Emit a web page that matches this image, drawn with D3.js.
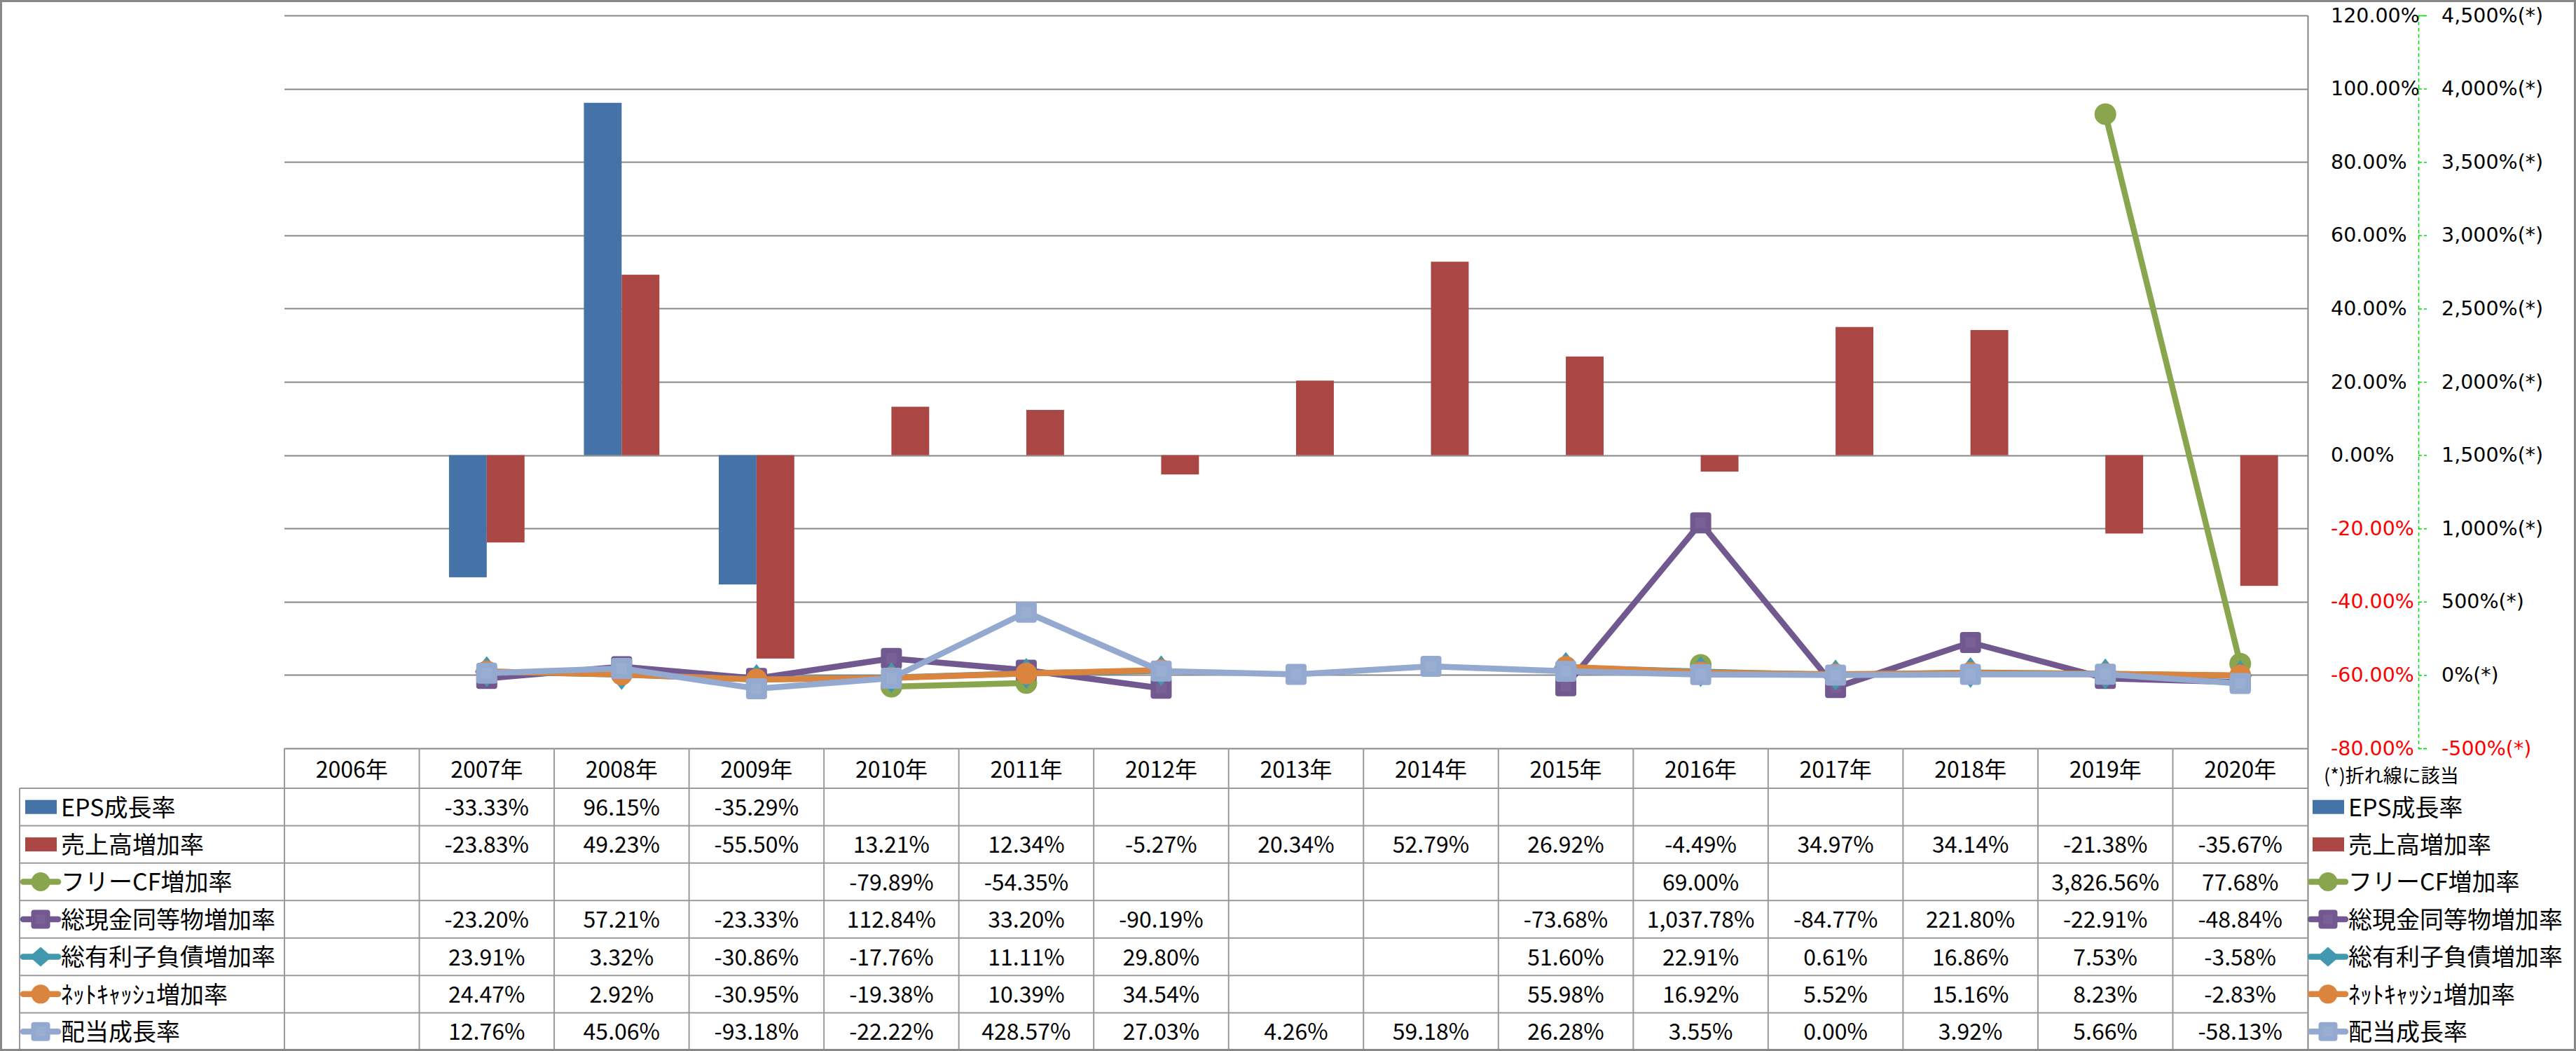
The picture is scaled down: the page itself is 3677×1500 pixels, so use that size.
<!DOCTYPE html>
<html>
<head>
<meta charset="utf-8">
<script src="https://cdn.jsdelivr.net/npm/d3@7"></script>
<style>
  html, body { margin: 0; padding: 0; background: #fff; }
  svg { display: block; }
</style>
</head>
<body>
<svg id="chart" width="3677" height="1500"></svg>
<script>
// ---------------- DATA ----------------
const years = ["2006年","2007年","2008年","2009年","2010年","2011年","2012年","2013年","2014年","2015年","2016年","2017年","2018年","2019年","2020年"];

const epsGrowth      = [null, -33.33, 96.15, -35.29, null, null, null, null, null, null, null, null, null, null, null];
const salesGrowth    = [null, -23.83, 49.23, -55.50, 13.21, 12.34, -5.27, 20.34, 52.79, 26.92, -4.49, 34.97, 34.14, -21.38, -35.67];
const fcfGrowth      = [null, null, null, null, -79.89, -54.35, null, null, null, null, 69.00, null, null, 3826.56, 77.68];
const cashGrowth     = [null, -23.20, 57.21, -23.33, 112.84, 33.20, -90.19, null, null, -73.68, 1037.78, -84.77, 221.80, -22.91, -48.84];
const debtGrowth     = [null, 23.91, 3.32, -30.86, -17.76, 11.11, 29.80, null, null, 51.60, 22.91, 0.61, 16.86, 7.53, -3.58];
const netCashGrowth  = [null, 24.47, 2.92, -30.95, -19.38, 10.39, 34.54, null, null, 55.98, 16.92, 5.52, 15.16, 8.23, -2.83];
const dividendGrowth = [null, 12.76, 45.06, -93.18, -22.22, 428.57, 27.03, 4.26, 59.18, 26.28, 3.55, 0.00, 3.92, 5.66, -58.13];

const seriesNames = ["EPS成長率","売上高増加率","フリーCF増加率","総現金同等物増加率","総有利子負債増加率","ﾈｯﾄｷｬｯｼｭ増加率","配当成長率"];
const leftTicks  = [-80, -60, -40, -20, 0, 20, 40, 60, 80, 100, 120];
const rightTicks = [-500, 0, 500, 1000, 1500, 2000, 2500, 3000, 3500, 4000, 4500];
const axisNote = "(*)折れ線に該当";

// ---------------- SETUP ----------------
const W = 3677, H = 1500;
const plotL = 406, plotR = 3294, plotT = 22, plotB = 1068;
const svg = d3.select("#chart");
const CJK = "'Noto Sans CJK JP', 'Noto Sans', sans-serif";
const AXF = "'DejaVu Sans', Verdana, sans-serif";
const gridCol = "#878787";
const loc = d3.formatLocale({decimal: ".", thousands: ",", grouping: [3], currency: ["", ""], minus: "-"});

const colors = {
  eps: "#4572A7", sales: "#AA4643", fcf: "#89A54E", cash: "#71588F",
  debt: "#4198AF", net: "#DB843D", div: "#93A9CF"
};

const x = d3.scaleBand().domain(years).range([plotL, plotR]).padding(0);
const yL = d3.scaleLinear().domain([-80, 120]).range([plotB, plotT]);
const yR = d3.scaleLinear().domain([-500, 4500]).range([plotB, plotT]);
const bw = x.bandwidth();
const barW = bw * 0.28;

svg.append("rect").attr("x", 0).attr("y", 0).attr("width", W).attr("height", H).attr("fill", "#fff");

// gridlines
svg.append("g").selectAll("line").data(leftTicks).join("line")
  .attr("x1", plotL).attr("x2", plotR)
  .attr("y1", d => Math.round(yL(d)) + 0.5).attr("y2", d => Math.round(yL(d)) + 0.5)
  .attr("stroke", gridCol).attr("stroke-width", 2);

// ---------------- BARS ----------------
const barG = svg.append("g");
const barSeries = [
  {vals: epsGrowth, color: colors.eps, off: -barW},
  {vals: salesGrowth, color: colors.sales, off: 0}
];
barSeries.forEach(s => {
  barG.append("g").selectAll("rect")
    .data(s.vals.map((v, i) => ({v, yr: years[i]})).filter(d => d.v != null))
    .join("rect")
    .attr("x", d => x(d.yr) + bw / 2 + s.off)
    .attr("width", barW)
    .attr("y", d => Math.min(yL(d.v), yL(0)))
    .attr("height", d => Math.abs(yL(d.v) - yL(0)))
    .attr("fill", s.color);
});

// ---------------- LINES ----------------
function drawMarker(g, shape, color, cx, cy, isLegend) {
  if (shape === "square") {
    const s = isLegend ? 27 : 30;
    g.append("rect").attr("x", cx - s / 2).attr("y", cy - s / 2)
      .attr("width", s).attr("height", s).attr("rx", 4).attr("fill", color);
    g.append("rect").attr("x", cx - s / 4).attr("y", cy - s / 4)
      .attr("width", s / 2).attr("height", s / 2).attr("fill", "#fff").attr("opacity", 0.06);
  } else if (shape === "diamond") {
    const w = isLegend ? 16 : 17, h = isLegend ? 14 : 22;
    g.append("path").attr("d", `M${cx},${cy - h}L${cx + w},${cy}L${cx},${cy + h}L${cx - w},${cy}Z`).attr("fill", color);
  } else {
    const r = isLegend ? 13.5 : 15.5;
    g.append("circle").attr("cx", cx).attr("cy", cy).attr("r", r).attr("fill", color);
  }
}

const lineSeries = [
  {vals: fcfGrowth, color: colors.fcf, shape: "circle"},
  {vals: cashGrowth, color: colors.cash, shape: "square"},
  {vals: debtGrowth, color: colors.debt, shape: "diamond"},
  {vals: netCashGrowth, color: colors.net, shape: "circle"},
  {vals: dividendGrowth, color: colors.div, shape: "square"}
];
const lineGen = d3.line()
  .defined(d => d.v != null)
  .x(d => x(d.yr) + bw / 2)
  .y(d => yR(d.v));

const lineG = svg.append("g");
lineSeries.forEach(s => {
  const data = s.vals.map((v, i) => ({v, yr: years[i]}));
  const g = lineG.append("g");
  g.append("path").datum(data).attr("d", lineGen)
    .attr("fill", "none").attr("stroke", s.color).attr("stroke-width", 8.5)
    .attr("stroke-linejoin", "round").attr("stroke-linecap", "round");
  data.filter(d => d.v != null).forEach(d => {
    drawMarker(g, s.shape, s.color, x(d.yr) + bw / 2, yR(d.v), false);
  });
});

// plot right border
svg.append("line").attr("x1", plotR + 0.5).attr("x2", plotR + 0.5).attr("y1", plotT).attr("y2", H)
  .attr("stroke", gridCol).attr("stroke-width", 2);

// ---------------- AXES ----------------
const leftAxis = d3.axisRight(yL).tickValues(leftTicks)
  .tickFormat(d => loc.format(".2f")(d) + "%").tickSize(0).tickPadding(0);
const la = svg.append("g").attr("transform", `translate(3327,0)`).call(leftAxis);
la.select(".domain").remove();
la.selectAll("text").attr("font-family", AXF).attr("font-size", 28.5)
  .attr("fill", d => d < 0 ? "#FF0000" : "#000").attr("text-anchor", "start");

const rightAxis = d3.axisRight(yR).tickValues(rightTicks)
  .tickFormat(d => loc.format(",")(d) + "%(*)").tickSize(12).tickPadding(21);
const ra = svg.append("g").attr("transform", `translate(3452,0)`).call(rightAxis);
ra.select(".domain").attr("stroke", "#00E000").attr("stroke-width", 1.5).attr("stroke-dasharray", "5,4");
ra.selectAll(".tick line").attr("stroke", "#00E000").attr("stroke-width", 1.5).attr("stroke-dasharray", "5,3");
ra.selectAll("text").attr("font-family", AXF).attr("font-size", 28.5)
  .attr("fill", d => d < 0 ? "#FF0000" : "#000");

svg.append("text").attr("x", 3317).attr("y", 1108).attr("dy", "0.35em")
  .attr("font-family", CJK).attr("font-size", 27).attr("fill", "#000").text(axisNote);

// ---------------- DATA TABLE ----------------
const tblL = 28, headT = plotB, headB = 1125, rowH = (1499 - headB) / 7;
const tableCol = "#9a9a9a";
const tg = svg.append("g");

for (let r = 0; r < 7; r++) {
  const yy = headB + r * rowH;
  tg.append("line").attr("x1", tblL).attr("x2", plotR).attr("y1", yy).attr("y2", yy)
    .attr("stroke", tableCol).attr("stroke-width", 2);
}
tg.append("line").attr("x1", tblL).attr("x2", tblL).attr("y1", headB).attr("y2", H)
  .attr("stroke", tableCol).attr("stroke-width", 2);
years.forEach(yr => {
  tg.append("line").attr("x1", x(yr)).attr("x2", x(yr)).attr("y1", headT).attr("y2", H)
    .attr("stroke", tableCol).attr("stroke-width", 2);
});

tg.append("g").selectAll("text").data(years).join("text")
  .attr("x", d => x(d) + bw / 2).attr("y", (headT + headB) / 2 + 2).attr("dy", "0.35em")
  .attr("text-anchor", "middle").attr("font-family", CJK).attr("font-size", 32).attr("fill", "#000")
  .text(d => d);

const allSeries = [epsGrowth, salesGrowth, fcfGrowth, cashGrowth, debtGrowth, netCashGrowth, dividendGrowth];
const keyTypes = [
  {type: "rect", color: colors.eps}, {type: "rect", color: colors.sales},
  {type: "line", color: colors.fcf, shape: "circle"}, {type: "line", color: colors.cash, shape: "square"},
  {type: "line", color: colors.debt, shape: "diamond"}, {type: "line", color: colors.net, shape: "circle"},
  {type: "line", color: colors.div, shape: "square"}
];
const fmt = v => loc.format(",.2f")(v) + "%";

function drawKey(g, k, kx, cy) {
  if (k.type === "rect") {
    g.append("rect").attr("x", kx + 3).attr("y", cy - 10).attr("width", 45).attr("height", 20).attr("fill", k.color);
  } else {
    g.append("line").attr("x1", kx).attr("x2", kx + 50).attr("y1", cy).attr("y2", cy)
      .attr("stroke", k.color).attr("stroke-width", 8.5).attr("stroke-linecap", "round");
    drawMarker(g, k.shape, k.color, kx + 25, cy, true);
  }
}

allSeries.forEach((vals, r) => {
  const cy = headB + r * rowH + rowH / 2;
  drawKey(tg, keyTypes[r], 33, cy);
  tg.append("text").attr("x", 87).attr("y", cy + 1).attr("dy", "0.35em")
    .attr("font-family", CJK).attr("font-size", 34).attr("fill", "#000").text(seriesNames[r]);
  tg.append("g").selectAll("text")
    .data(vals.map((v, i) => ({v, yr: years[i]})).filter(d => d.v != null))
    .join("text")
    .attr("x", d => x(d.yr) + bw / 2).attr("y", cy + 1).attr("dy", "0.35em")
    .attr("text-anchor", "middle").attr("font-family", CJK).attr("font-size", 32).attr("fill", "#000")
    .text(d => fmt(d.v));
  drawKey(svg, keyTypes[r], 3298, cy);
  svg.append("text").attr("x", 3352).attr("y", cy + 1).attr("dy", "0.35em")
    .attr("font-family", CJK).attr("font-size", 34).attr("fill", "#000").text(seriesNames[r]);
});

// outer frame
svg.append("rect").attr("x", 1.5).attr("y", 1.5).attr("width", W - 3).attr("height", H - 3)
  .attr("fill", "none").attr("stroke", "#888").attr("stroke-width", 3);
</script>
</body>
</html>
